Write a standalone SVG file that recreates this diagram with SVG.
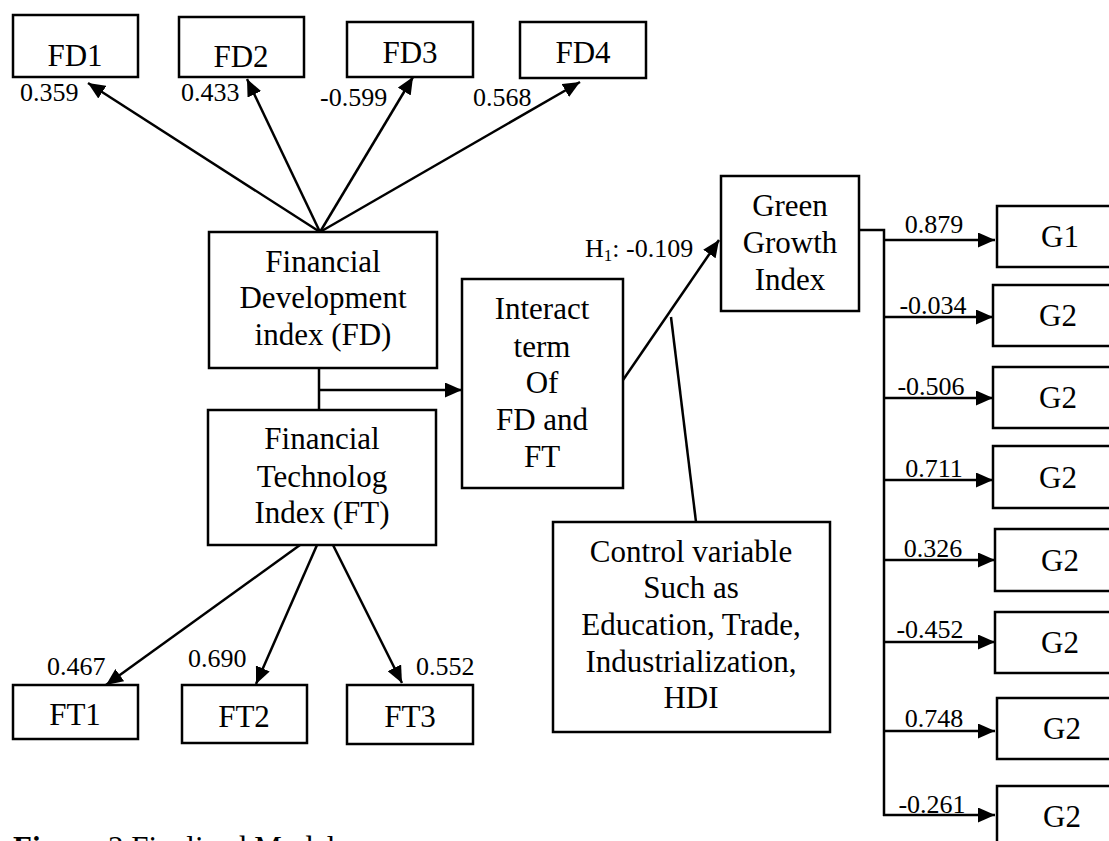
<svg xmlns="http://www.w3.org/2000/svg" width="1109" height="841" viewBox="0 0 1109 841">
<style>
  .box { fill: #fff; stroke: #000; stroke-width: 2.5; }
  .t { font-family: "Liberation Serif", "Times New Roman", serif; font-size: 31px; fill: #000; text-anchor: middle; }
  .lbl { font-family: "Liberation Serif", "Times New Roman", serif; font-size: 26px; fill: #000; }
  .c { fill: none; stroke: #000; stroke-width: 2.5; }
  .a { marker-end: url(#arr); }
</style>
<defs>
  <marker id="arr" markerUnits="userSpaceOnUse" markerWidth="17" markerHeight="15" refX="17" refY="7.5" orient="auto">
    <path d="M0,0 L17,7.5 L0,15 z" fill="#000"/>
  </marker>
</defs>
<rect width="1109" height="841" fill="#fff"/>

<g id="connectors">
  <line class="c a" x1="320" y1="232" x2="88" y2="83"/>
  <line class="c a" x1="320" y1="232" x2="247" y2="79"/>
  <line class="c a" x1="320" y1="232" x2="413" y2="77"/>
  <line class="c a" x1="320" y1="232" x2="580" y2="82"/>
  <line class="c" x1="319" y1="368" x2="319" y2="410"/>
  <line class="c a" x1="319" y1="390" x2="462" y2="390"/>
  <line class="c a" x1="623" y1="380" x2="719" y2="240"/>
  <line class="c" x1="671" y1="317" x2="696" y2="522"/>
  <line class="c a" x1="300" y1="545" x2="106" y2="685"/>
  <line class="c a" x1="317" y1="545" x2="256" y2="684"/>
  <line class="c a" x1="333" y1="545" x2="402" y2="683"/>
  <polyline class="c" points="859,230 884,230 884,816"/>
  <line class="c a" x1="883" y1="240" x2="995" y2="240"/>
  <line class="c a" x1="883" y1="317" x2="993" y2="317"/>
  <line class="c a" x1="883" y1="398" x2="993" y2="398"/>
  <line class="c a" x1="883" y1="480" x2="993" y2="480"/>
  <line class="c a" x1="883" y1="560" x2="995" y2="560"/>
  <line class="c a" x1="883" y1="642" x2="995" y2="642"/>
  <line class="c a" x1="883" y1="731" x2="995" y2="731"/>
  <line class="c a" x1="883" y1="815" x2="995" y2="815"/>
  <text class="lbl" x="20" y="101">0.359</text>
  <text class="lbl" x="181" y="101">0.433</text>
  <text class="lbl" x="320" y="106">-0.599</text>
  <text class="lbl" x="473" y="106">0.568</text>
  <text class="lbl" x="47" y="675">0.467</text>
  <text class="lbl" x="188" y="667">0.690</text>
  <text class="lbl" x="416" y="675">0.552</text>
  <text class="lbl" x="585" y="257">H<tspan font-size="17" dy="4">1</tspan><tspan dy="-4">: -0.109</tspan></text>
  <text class="lbl" x="934" y="233" text-anchor="middle">0.879</text>
  <text class="lbl" x="933" y="314" text-anchor="middle">-0.034</text>
  <text class="lbl" x="931" y="395" text-anchor="middle">-0.506</text>
  <text class="lbl" x="934" y="477" text-anchor="middle">0.711</text>
  <text class="lbl" x="933" y="557" text-anchor="middle">0.326</text>
  <text class="lbl" x="930" y="638" text-anchor="middle">-0.452</text>
  <text class="lbl" x="934" y="727" text-anchor="middle">0.748</text>
  <text class="lbl" x="932" y="813" text-anchor="middle">-0.261</text>
</g>

<g id="FD1"><rect class="box" x="13" y="15" width="125" height="62"/><text class="t" x="75" y="66">FD1</text></g>
<g id="FD2"><rect class="box" x="179" y="17" width="125" height="60"/><text class="t" x="241" y="67">FD2</text></g>
<g id="FD3"><rect class="box" x="347" y="22" width="126" height="55"/><text class="t" x="410" y="63">FD3</text></g>
<g id="FD4"><rect class="box" x="520" y="22" width="126" height="56"/><text class="t" x="583" y="63">FD4</text></g>

<g id="FD"><rect class="box" x="209" y="232" width="228" height="136"/>
  <text class="t" x="323" y="272">Financial</text>
  <text class="t" x="323" y="308">Development</text>
  <text class="t" x="323" y="345">index (FD)</text></g>

<g id="FT"><rect class="box" x="208" y="410" width="228" height="135"/>
  <text class="t" x="322" y="449">Financial</text>
  <text class="t" x="322" y="487">Technolog</text>
  <text class="t" x="322" y="523">Index (FT)</text></g>

<g id="Interact"><rect class="box" x="462" y="279" width="161" height="209"/>
  <text class="t" x="542" y="319">Interact</text>
  <text class="t" x="542" y="357">term</text>
  <text class="t" x="542" y="393">Of</text>
  <text class="t" x="542" y="430">FD and</text>
  <text class="t" x="542" y="467">FT</text></g>

<g id="Control"><rect class="box" x="553" y="522" width="277" height="210"/>
  <text class="t" x="691" y="562">Control variable</text>
  <text class="t" x="691" y="598">Such as</text>
  <text class="t" x="691" y="635">Education, Trade,</text>
  <text class="t" x="691" y="672">Industrialization,</text>
  <text class="t" x="691" y="708">HDI</text></g>

<g id="Green"><rect class="box" x="721" y="176" width="138" height="135"/>
  <text class="t" x="790" y="216">Green</text>
  <text class="t" x="790" y="253">Growth</text>
  <text class="t" x="790" y="290">Index</text></g>

<g id="FT1"><rect class="box" x="13" y="685" width="125" height="54"/><text class="t" x="75" y="725">FT1</text></g>
<g id="FT2"><rect class="box" x="182" y="685" width="125" height="58"/><text class="t" x="244" y="727">FT2</text></g>
<g id="FT3"><rect class="box" x="347" y="685" width="126" height="59"/><text class="t" x="410" y="727">FT3</text></g>

<g id="G1"><rect class="box" x="997" y="206" width="130" height="61"/><text class="t" x="1060" y="247">G1</text></g>
<g id="G2a"><rect class="box" x="993" y="285" width="132" height="61"/><text class="t" x="1058" y="326">G2</text></g>
<g id="G2b"><rect class="box" x="993" y="367" width="132" height="61"/><text class="t" x="1058" y="408">G2</text></g>
<g id="G2c"><rect class="box" x="993" y="446" width="132" height="62"/><text class="t" x="1058" y="488">G2</text></g>
<g id="G2d"><rect class="box" x="995" y="529" width="132" height="62"/><text class="t" x="1060" y="571">G2</text></g>
<g id="G2e"><rect class="box" x="995" y="612" width="132" height="61"/><text class="t" x="1060" y="653">G2</text></g>
<g id="G2f"><rect class="box" x="997" y="698" width="132" height="61"/><text class="t" x="1062" y="739">G2</text></g>
<g id="G2g"><rect class="box" x="997" y="786" width="132" height="70"/><text class="t" x="1062" y="827">G2</text></g>

<text x="13" y="858" font-family="Liberation Serif, Times New Roman, serif" font-size="31" fill="#000"><tspan font-weight="bold">Figure</tspan> 3 Finalized Model</text>
</svg>
